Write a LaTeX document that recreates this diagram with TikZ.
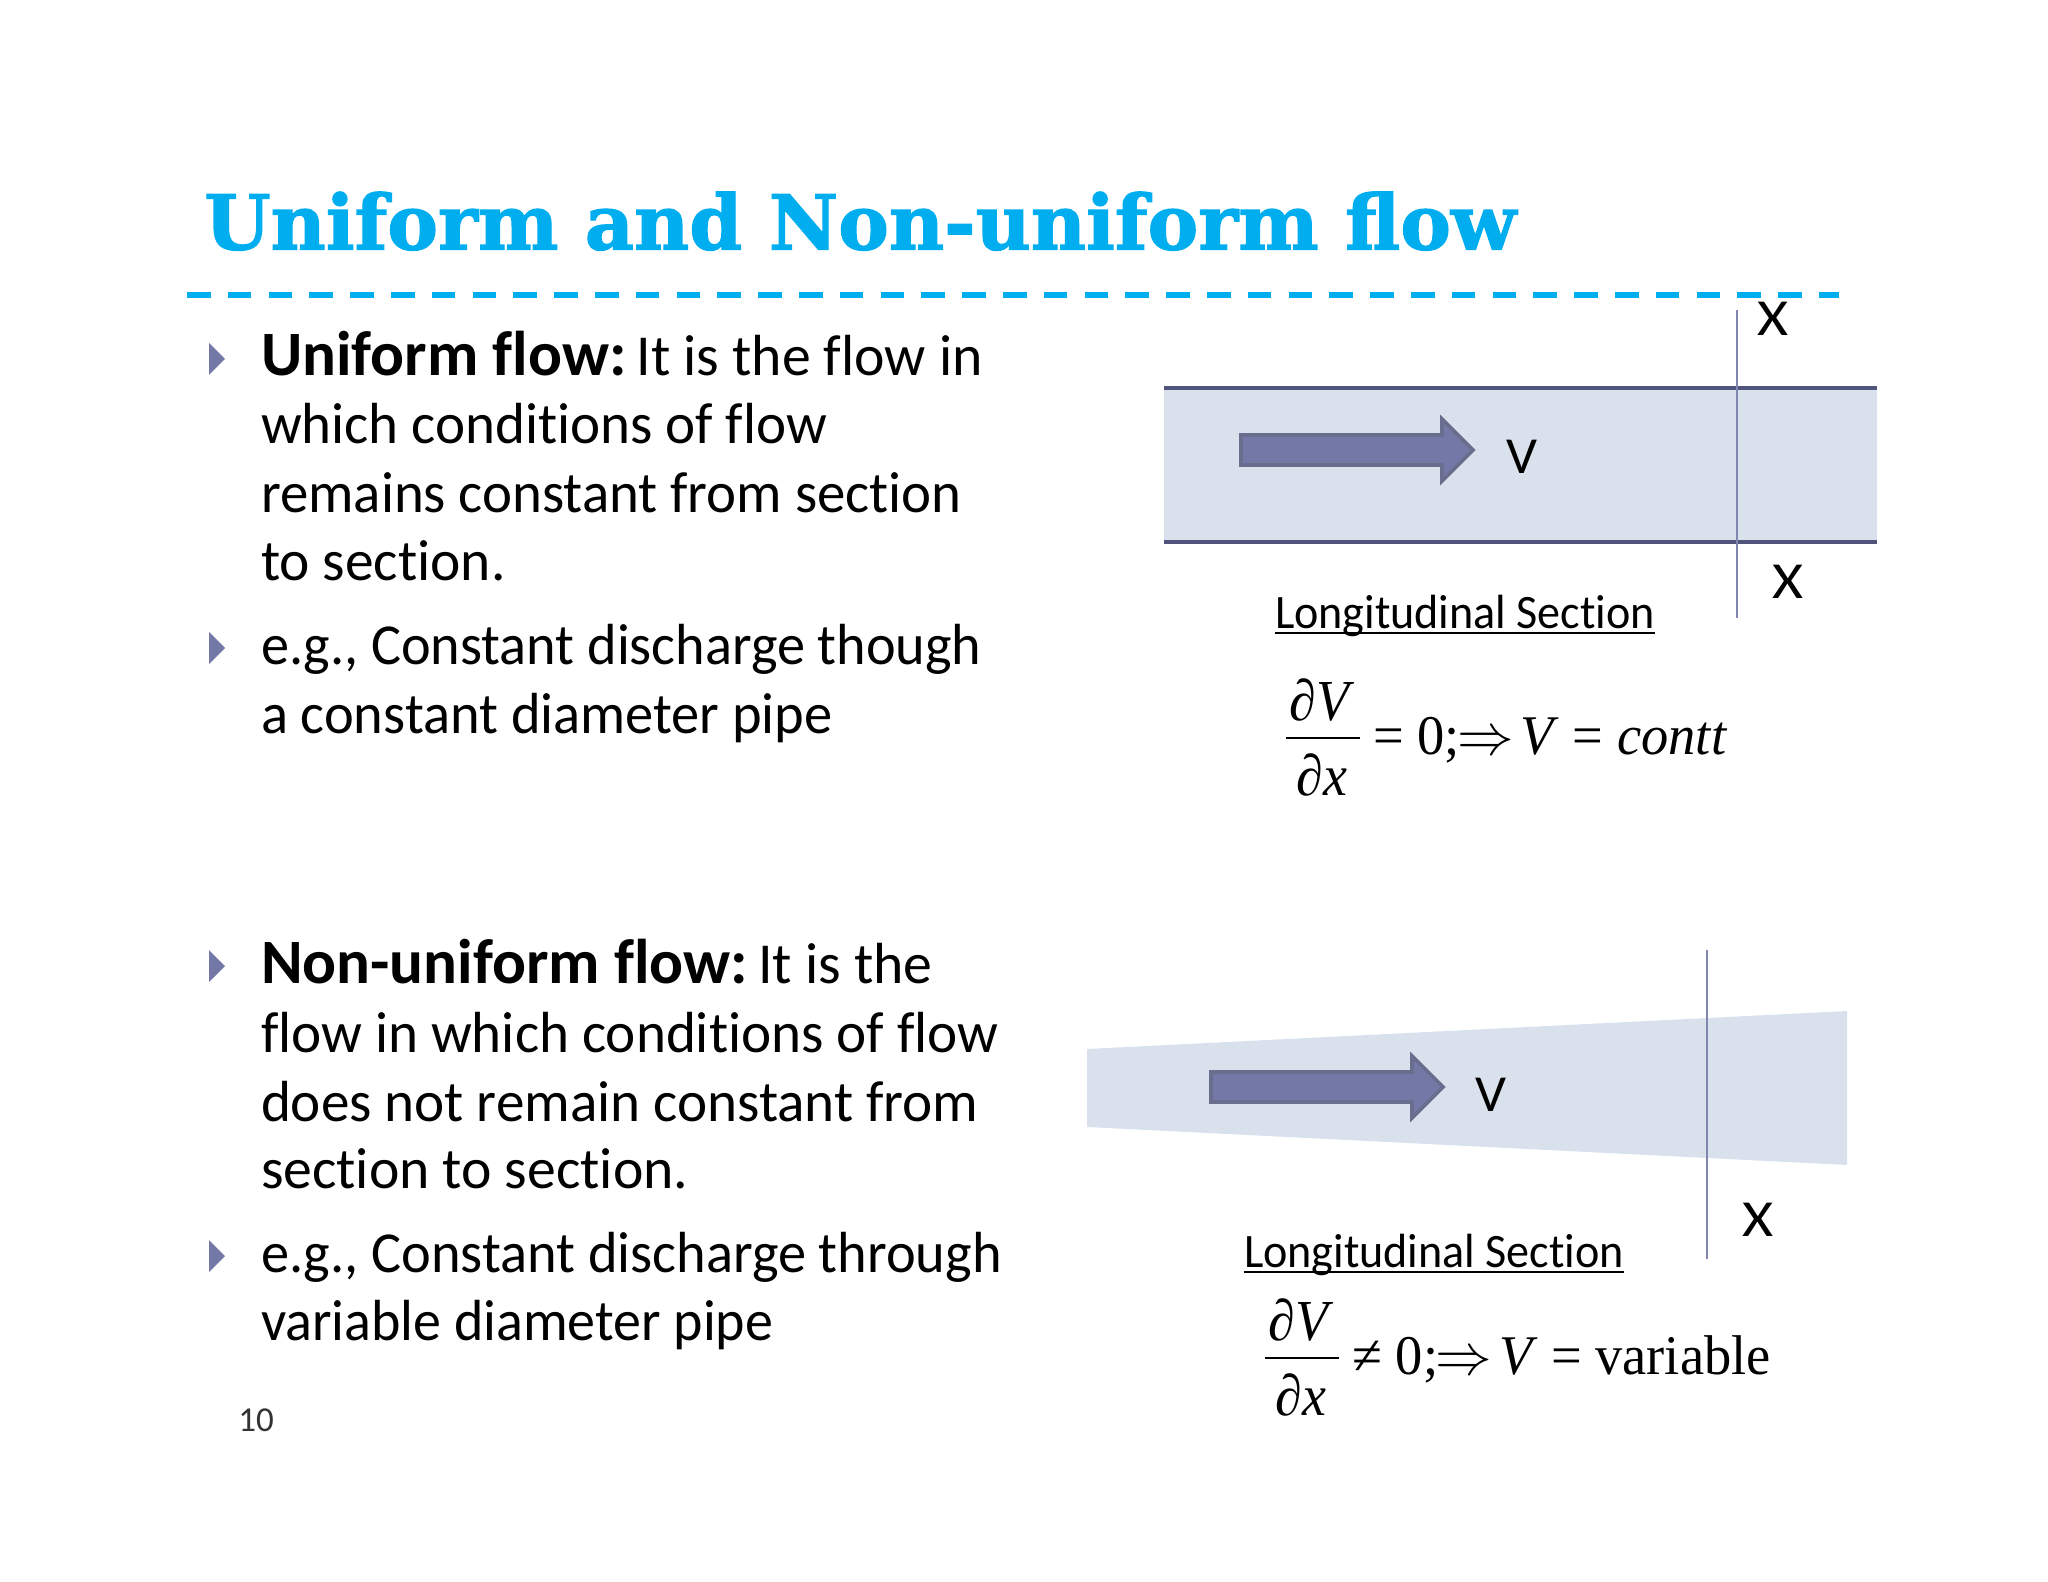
\documentclass[tikz,border=0pt]{standalone}
\usepackage{fontspec}
\usetikzlibrary{calc}
\setmainfont[Ligatures=NoCommon]{Carlito}
\newfontfamily\titlefont[BoldFeatures={FakeBold=1.6}]{DejaVu Serif}
\newfontfamily\eqfont{Liberation Serif}
\definecolor{titleblue}{HTML}{00AEEF}
\definecolor{pipefill}{HTML}{D9E2EC}
\definecolor{bulletcol}{HTML}{7478A6}
\definecolor{edgecol}{HTML}{50547A}
\definecolor{seccol}{HTML}{7F87B0}
\tikzset{
  line/.style={anchor=base west,inner sep=0pt,outer sep=0pt,font=\fontsize{29}{34}\selectfont},
  secnum/.style={anchor=base west,inner sep=0pt,font=\fontsize{17.5}{20}\selectfont,text=black!80},
  letter/.style={anchor=center,inner sep=0pt,font=\fontsize{26}{28}\selectfont},
  sectitle/.style={anchor=base,inner sep=0pt,font=\fontsize{24}{28}\selectfont},
  eqtext/.style={anchor=base west,inner sep=0pt,font=\eqfont\fontsize{28}{32}\selectfont},
  eqfrac/.style={anchor=center,inner sep=0pt,font=\eqfont\fontsize{29}{32}\selectfont},
  bullet/.style={fill=bulletcol,draw=none},
  pipeedge/.style={draw=edgecol,line width=2pt},
  cutline/.style={draw=seccol,line width=1pt},
  flowarrow/.style={fill=bulletcol,draw=edgecol!85,line width=1.8pt,line join=miter},
  underrule/.style={draw=black,line width=1pt},
}
\newcommand{\bul}[1]{\fill[bullet] (209,#1-16) -- (225,#1) -- (209,#1+16) -- cycle;}
\newcommand{\flowarr}[2]{\draw[flowarrow] (#1+2,#2-15) -- (#1+203,#2-15) -- (#1+203,#2-31) -- (#1+234,#2) -- (#1+203,#2+31) -- (#1+203,#2+15) -- (#1+2,#2+15) -- cycle;}
\newcommand{\bh}[1]{{\fontsize{31.6}{34}\selectfont\bfseries #1}}
\newcommand{\sx}[2]{\scalebox{#1}[1]{#2}}
\newcommand{\bigarrow}{\kern-1.5pt\scalebox{1.17}{$\Rightarrow$}\kern-1pt}
\begin{document}
\begin{tikzpicture}[x=0.5pt,y=-0.5pt]
\useasboundingbox (0,0) rectangle (2048,1582);
% title
\node[anchor=base west,inner sep=0pt,text=titleblue] (title) at (204,249.5)
  {\resizebox{656pt}{!}{\titlefont\bfseries\fontsize{40}{44}\selectfont Uniform and Non-uniform flow}};
\draw[titleblue,line width=3pt,dash pattern=on 11.8pt off 8.6pt] (187,295) -- (1839,295);
% bullets
\bul{359}\bul{648}\bul{966}\bul{1256}
% left text, first block
\node[line] (a1) at (261,376) {\bh{Uniform flow:}\kern5pt\sx{.995}{It is the flow in}};
\node[line] (a2) at (261,444) {\sx{.983}{which conditions of flow}};
\node[line] (a3) at (261,513) {\sx{.98}{remains constant from section}};
\node[line] (a4) at (261,581) {\sx{.99}{to section.}};
\node[line] (a5) at (261,664) {\sx{.97}{e.g., Constant discharge though}};
\node[line] (a6) at (261,733) {\sx{.973}{a constant diameter pipe}};
% left text, second block
\node[line] (b1) at (261,983) {\bh{Non-uniform flow:}\kern5pt\sx{.995}{It is the}};
\node[line] (b2) at (261,1052) {\sx{.985}{flow in which conditions of flow}};
\node[line] (b3) at (261,1121) {\sx{.985}{does not remain constant from}};
\node[line] (b4) at (261,1188) {\sx{.994}{section to section.}};
\node[line] (b5) at (261,1272) {\sx{.972}{e.g., Constant discharge through}};
\node[line] (b6) at (261,1340) {\sx{.965}{variable diameter pipe}};
\node[secnum] (num) at (238,1431) {10};
% upper pipe
\fill[pipefill] (1164,388) rectangle (1877,542);
\draw[pipeedge] (1164,388) -- (1877,388);
\draw[pipeedge] (1164,542) -- (1877,542);
\draw[cutline] (1737,310) -- (1737,618);
\flowarr{1239}{450}
\node[letter] (v1) at (1522,457) {\sx{1.05}{V}};
\node[letter] (x1) at (1773,319) {\sx{1.15}{X}};
\node[letter] (x2) at (1788,582) {\sx{1.15}{X}};
\node[sectitle] (s1) at (1465,628) {\sx{.96}{Longitudinal Section}};
\draw[underrule] ([yshift=-2.6pt]s1.base west) -- ([yshift=-2.6pt]s1.base east);
% upper equation
\node[eqfrac] (n1) at (1322,700) {\sx{.93}{∂\textit{V}}};
\draw[line width=0.9pt] (1286,738) -- (1360,738);
\node[eqfrac] (d1) at (1322,775) {\sx{.93}{∂\textit{x}}};
\node[eqtext] (e1) at (1373,754) {\sx{.972}{= 0;\bigarrow\,\textit{V} = \textit{contt}}};
% lower pipe
\fill[pipefill] (1087,1049) -- (1847,1011) -- (1847,1165) -- (1087,1127) -- cycle;
\draw[cutline] (1707,950) -- (1707,1259);
\flowarr{1209}{1087}
\node[letter] (v2) at (1491,1095) {\sx{1.05}{V}};
\node[letter] (x3) at (1758,1220) {\sx{1.15}{X}};
\node[sectitle] (s2) at (1434,1267) {\sx{.96}{Longitudinal Section}};
\draw[underrule] ([yshift=-2.6pt]s2.base west) -- ([yshift=-2.6pt]s2.base east);
% lower equation
\node[eqfrac] (n2) at (1301,1320) {\sx{.93}{∂\textit{V}}};
\draw[line width=0.9pt] (1265,1358) -- (1339,1358);
\node[eqfrac] (d2) at (1301,1395) {\sx{.93}{∂\textit{x}}};
\node[eqtext] (e2) at (1352,1374) {\sx{.972}{≠ 0;\bigarrow\,\textit{V} = variable}};
\end{tikzpicture}
\end{document}
